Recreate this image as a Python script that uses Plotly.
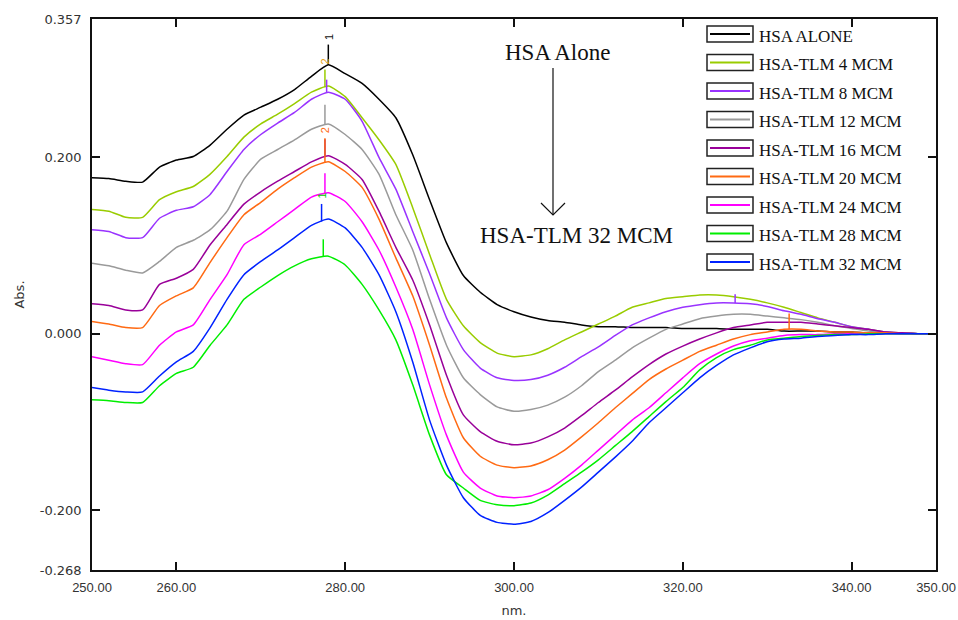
import plotly.graph_objects as go
import numpy as np

# ---------------- data ----------------
wavelength = list(range(250, 351, 2))

series_names = ["HSA ALONE", "HSA-TLM 4 MCM", "HSA-TLM 8 MCM", "HSA-TLM 12 MCM",
                "HSA-TLM 16 MCM", "HSA-TLM 20 MCM", "HSA-TLM 24 MCM",
                "HSA-TLM 28 MCM", "HSA-TLM 32 MCM"]
series_colors = ["#000000", "#99cc00", "#9933ff", "#9a9a9a", "#990099",
                 "#ff6a13", "#ff00ff", "#00ee00", "#0022ff"]

abs_hsa_alone = [0.177, 0.176, 0.173, 0.172, 0.189, 0.197, 0.201, 0.214, 0.232, 0.248,
                 0.257, 0.266, 0.277, 0.292, 0.305, 0.295, 0.284, 0.266, 0.245, 0.203,
                 0.152, 0.103, 0.066, 0.047, 0.033, 0.025, 0.019, 0.015, 0.013, 0.010,
                 0.008, 0.008, 0.007, 0.007, 0.007, 0.006, 0.006, 0.006, 0.005, 0.005,
                 0.005, 0.003, 0.003, 0.003, 0.002, 0.002, 0.001, 0.001, 0.001, 0.000, 0.000]
abs_tlm_4 = [0.141, 0.139, 0.132, 0.132, 0.152, 0.161, 0.167, 0.181, 0.201, 0.223,
             0.238, 0.249, 0.261, 0.274, 0.281, 0.269, 0.245, 0.220, 0.192, 0.143,
             0.090, 0.039, 0.009, -0.010, -0.022, -0.026, -0.024, -0.017, -0.007, 0.002,
             0.011, 0.020, 0.030, 0.035, 0.040, 0.042, 0.044, 0.044, 0.042, 0.039,
             0.035, 0.030, 0.024, 0.018, 0.013, 0.008, 0.005, 0.002, 0.001, 0.000, 0.000]
abs_tlm_8 = [0.118, 0.116, 0.109, 0.109, 0.131, 0.140, 0.144, 0.158, 0.184, 0.209,
             0.226, 0.239, 0.251, 0.266, 0.274, 0.266, 0.241, 0.200, 0.164, 0.116,
             0.068, 0.018, -0.018, -0.039, -0.050, -0.053, -0.052, -0.047, -0.038, -0.026,
             -0.015, -0.002, 0.010, 0.018, 0.025, 0.030, 0.033, 0.035, 0.035, 0.034,
             0.031, 0.026, 0.022, 0.017, 0.013, 0.008, 0.005, 0.002, 0.001, 0.000, 0.000]
abs_tlm_12 = [0.080, 0.077, 0.072, 0.069, 0.082, 0.098, 0.106, 0.118, 0.139, 0.175,
              0.198, 0.209, 0.220, 0.232, 0.238, 0.226, 0.209, 0.181, 0.135, 0.095,
              0.039, -0.013, -0.050, -0.069, -0.083, -0.088, -0.086, -0.081, -0.072, -0.059,
              -0.043, -0.030, -0.016, -0.005, 0.005, 0.011, 0.017, 0.020, 0.022, 0.022,
              0.020, 0.018, 0.016, 0.013, 0.009, 0.006, 0.003, 0.001, 0.001, 0.000, 0.000]
abs_tlm_16 = [0.034, 0.032, 0.027, 0.027, 0.056, 0.063, 0.073, 0.101, 0.124, 0.147,
              0.161, 0.173, 0.184, 0.195, 0.202, 0.192, 0.175, 0.139, 0.098, 0.061,
              0.010, -0.047, -0.092, -0.111, -0.122, -0.126, -0.124, -0.117, -0.107, -0.093,
              -0.078, -0.064, -0.049, -0.035, -0.023, -0.014, -0.006, 0.001, 0.007, 0.010,
              0.013, 0.013, 0.013, 0.011, 0.009, 0.007, 0.005, 0.002, 0.001, 0.000, 0.000]
abs_tlm_20 = [0.014, 0.011, 0.007, 0.007, 0.032, 0.043, 0.052, 0.081, 0.109, 0.135,
              0.149, 0.164, 0.177, 0.189, 0.195, 0.184, 0.166, 0.130, 0.086, 0.043,
              -0.013, -0.073, -0.118, -0.139, -0.149, -0.152, -0.150, -0.143, -0.132, -0.117,
              -0.101, -0.084, -0.068, -0.052, -0.040, -0.030, -0.020, -0.013, -0.006, -0.001,
              0.002, 0.005, 0.005, 0.003, 0.002, 0.002, 0.001, 0.001, 0.000, 0.000, 0.000]
abs_tlm_24 = [-0.026, -0.030, -0.034, -0.035, -0.013, 0.002, 0.010, 0.039, 0.067, 0.101,
              0.113, 0.127, 0.141, 0.155, 0.160, 0.150, 0.127, 0.095, 0.053, 0.005,
              -0.058, -0.115, -0.157, -0.175, -0.184, -0.186, -0.184, -0.177, -0.164, -0.149,
              -0.132, -0.115, -0.098, -0.084, -0.067, -0.050, -0.034, -0.023, -0.014, -0.008,
              -0.005, -0.002, -0.001, -0.001, 0.000, 0.000, 0.000, 0.000, 0.000, 0.000, 0.000]
abs_tlm_28 = [-0.075, -0.076, -0.078, -0.078, -0.059, -0.045, -0.038, -0.013, 0.010, 0.039,
              0.053, 0.066, 0.077, 0.085, 0.088, 0.078, 0.056, 0.027, -0.007, -0.058,
              -0.115, -0.160, -0.175, -0.189, -0.194, -0.195, -0.192, -0.183, -0.170, -0.157,
              -0.143, -0.127, -0.111, -0.094, -0.077, -0.061, -0.041, -0.027, -0.018, -0.013,
              -0.007, -0.005, -0.003, -0.002, -0.001, -0.001, 0.000, 0.000, 0.000, 0.000, 0.000]
abs_tlm_32 = [-0.061, -0.064, -0.066, -0.066, -0.048, -0.032, -0.020, 0.007, 0.039, 0.067,
              0.082, 0.095, 0.109, 0.123, 0.130, 0.120, 0.098, 0.067, 0.025, -0.032,
              -0.098, -0.149, -0.186, -0.206, -0.214, -0.216, -0.213, -0.203, -0.189, -0.174,
              -0.157, -0.140, -0.122, -0.101, -0.084, -0.067, -0.050, -0.036, -0.024, -0.016,
              -0.009, -0.006, -0.005, -0.003, -0.002, -0.001, -0.001, 0.000, 0.000, 0.000, 0.000]

series_values = [abs_hsa_alone, abs_tlm_4, abs_tlm_8, abs_tlm_12, abs_tlm_16,
                 abs_tlm_20, abs_tlm_24, abs_tlm_28, abs_tlm_32]

# peak-pick markers (series index, wavelength, marker length in Abs, label)
marker_series = [0, 1, 2, 3, 4, 5, 6, 7, 8, 2, 5]
marker_nm = [278.0, 277.6, 277.8, 277.6, 277.6, 277.6, 277.6, 277.4, 277.2, 326.2, 332.6]
marker_len = [0.023, 0.020, 0.015, 0.023, 0.020, 0.028, 0.023, 0.020, 0.020, 0.010, 0.018]
marker_label = ["1", "2", "", "", "", "2", "", "", "1", "", ""]
label_colors = {0: "#111111", 1: "#e8a317", 5: "#ff6a13", 8: "#00cc00"}

x_ticks = [250, 260, 280, 300, 320, 340, 350]
x_ticktext = ["250.00", "260.00", "280.00", "300.00", "320.00", "340.00", "350.00"]
y_ticks = [-0.268, -0.2, 0.0, 0.2, 0.357]
y_ticktext = ["-0.268", "-0.200", "0.000", "0.200", "0.357"]

# ---------------- figure ----------------
W, H = 958, 620
# plot-area edges in pixels
L, R, T, B = 92, 936, 19, 570

def px(x):
    return (x - L) / (R - L)

def py(y):
    return (B - y) / (B - T)

fig = go.Figure()
for name, color, vals in zip(series_names, series_colors, series_values):
    fig.add_trace(go.Scatter(x=wavelength, y=vals, mode="lines", name=name,
                             line=dict(color=color, width=1.5, shape="spline", smoothing=0.5),
                             showlegend=False))

shapes = []
annotations = []
serif = "Times New Roman, Liberation Serif, serif"

# peak markers
for si, nm, ln, lab in zip(marker_series, marker_nm, marker_len, marker_label):
    v = float(np.interp(nm, wavelength, series_values[si]))
    shapes.append(dict(type="line", xref="x", yref="y", x0=nm, x1=nm, y0=v, y1=v + ln,
                       line=dict(color=series_colors[si], width=1.5)))
    if lab:
        annotations.append(dict(x=nm, y=v + ln + 0.009, xref="x", yref="y", text=lab,
                                showarrow=False, textangle=-90,
                                xanchor="center", yanchor="middle",
                                font=dict(family="Arial, Liberation Sans", size=11,
                                          color=label_colors.get(si, series_colors[si]))))

# custom legend (boxed swatches)
for i, (name, color) in enumerate(zip(series_names, series_colors)):
    top = 26 + 28.5 * i
    shapes.append(dict(type="rect", xref="paper", yref="paper",
                       x0=px(707), x1=px(753), y0=py(top), y1=py(top + 16),
                       line=dict(color="#222222", width=1.5), fillcolor="white"))
    shapes.append(dict(type="line", xref="paper", yref="paper",
                       x0=px(710), x1=px(750), y0=py(top + 8), y1=py(top + 8),
                       line=dict(color=color, width=2)))
    annotations.append(dict(x=px(757), y=py(top + 10), xref="paper", yref="paper",
                            text=name, showarrow=False, xanchor="left", yanchor="middle",
                            font=dict(family=serif, size=17, color="#111111")))

# arrow between the two labels
shapes.append(dict(type="line", xref="paper", yref="paper",
                   x0=px(553), x1=px(553), y0=py(68), y1=py(215),
                   line=dict(color="#111111", width=1.2)))
shapes.append(dict(type="path", xref="paper", yref="paper",
                   path=f"M {px(541)},{py(203)} L {px(553)},{py(215)} L {px(565)},{py(203)}",
                   line=dict(color="#111111", width=1.2)))
annotations.append(dict(x=px(557), y=py(53), xref="paper", yref="paper",
                        text="HSA Alone", showarrow=False,
                        xanchor="center", yanchor="middle",
                        font=dict(family=serif, size=23, color="#111111")))
annotations.append(dict(x=px(576), y=py(236), xref="paper", yref="paper",
                        text="HSA-TLM 32 MCM", showarrow=False,
                        xanchor="center", yanchor="middle",
                        font=dict(family=serif, size=23, color="#111111")))

axis_font = dict(family="DejaVu Sans, Arial, sans-serif", size=13, color="#333333")
x_font = dict(family="Liberation Sans, Arial, sans-serif", size=13, color="#333333")
fig.update_layout(
    width=W, height=H,
    margin=dict(l=L, r=W - R, t=T, b=H - B, autoexpand=False),
    plot_bgcolor="white", paper_bgcolor="white",
    shapes=shapes, annotations=annotations,
    xaxis=dict(range=[250, 350], tickvals=x_ticks, ticktext=x_ticktext,
               ticks="inside", ticklen=8, tickwidth=1.5, tickcolor="#111111",
               showline=True, linecolor="#111111", linewidth=1.5, mirror="ticks",
               showgrid=False, zeroline=False, tickfont=x_font, automargin=False,
               ticklabelstandoff=5, ticklabeloverflow="allow",
               title=dict(text="nm.", font=axis_font, standoff=12)),
    yaxis=dict(range=[-0.268, 0.357], tickvals=y_ticks, ticktext=y_ticktext,
               ticks="inside", ticklen=8, tickwidth=1.5, tickcolor="#111111",
               showline=True, linecolor="#111111", linewidth=1.5, mirror="ticks",
               showgrid=False, zeroline=False, tickfont=axis_font, automargin=False,
               ticklabelstandoff=6, ticklabeloverflow="allow",
               title=dict(text="Abs.", font=axis_font, standoff=12)),
)

# remove the default page margin so the 958x620 figure fills the window exactly
fig.write_html("out.html",
               config={"displayModeBar": False},
               post_script="document.body.style.margin='0';document.body.style.overflow='hidden';")
